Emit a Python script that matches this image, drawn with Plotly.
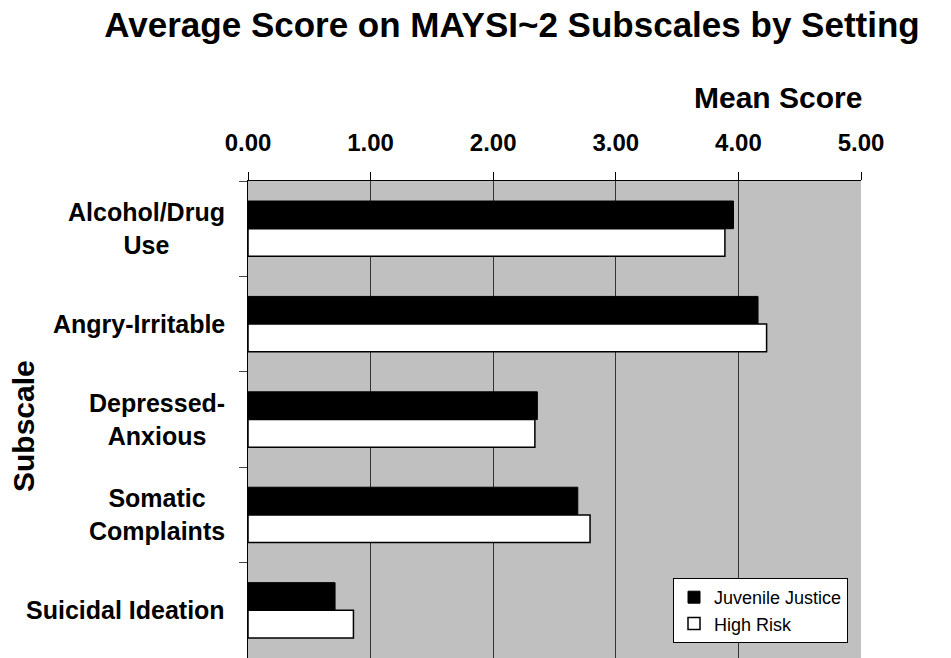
import plotly.graph_objects as go

categories = ["Alcohol/Drug Use", "Angry-Irritable", "Depressed-Anxious", "Somatic Complaints", "Suicidal Ideation"]
category_labels = ["Alcohol/Drug<br>Use", "Angry-Irritable", "Depressed-<br>Anxious", "Somatic<br>Complaints", "Suicidal Ideation"]
juvenile_justice = [3.96, 4.16, 2.36, 2.69, 0.71]
high_risk = [3.89, 4.23, 2.34, 2.79, 0.86]
x_ticks = [0, 1, 2, 3, 4, 5]

FONT = "Liberation Sans, Arial, sans-serif"
OFF = 8  # page body margin offset
W, H = 951, 658
L, R, T, B = 248 - OFF, 951 + OFF - 861, 181 - OFF, OFF
PW = W - L - R
PH = H - T - B

fig = go.Figure()
fig.add_trace(go.Bar(
    y=categories, x=juvenile_justice, orientation="h", name="Juvenile Justice",
    marker=dict(color="black", line=dict(color="black", width=1)),
))
fig.add_trace(go.Bar(
    y=categories, x=high_risk, orientation="h", name="High Risk",
    marker=dict(color="white", line=dict(color="black", width=1.5)),
))

fig.update_layout(
    width=W, height=H,
    margin=dict(l=L, r=R, t=T, b=B),
    paper_bgcolor="white",
    plot_bgcolor="#C0C0C0",
    barmode="group",
    bargap=0.42,
    bargroupgap=0,
    font=dict(family=FONT, color="black"),
    title=dict(
        text="Average Score on MAYSI~2 Subscales by Setting",
        font=dict(family=FONT, size=35, weight="bold", color="black"),
        x=(512 - OFF) / W, xanchor="center", y=1 - (25 - OFF) / H, yanchor="middle", yref="container",
    ),
    xaxis=dict(
        side="top", range=[0, 5], tickvals=x_ticks, tickformat=".2f",
        ticks="outside", ticklen=8, tickcolor="black", tickwidth=1,
        tickfont=dict(family=FONT, size=24, weight="bold", color="black"),
        ticklabelstandoff=11,
        showgrid=True, gridcolor="#333333", gridwidth=1,
        showline=True, linecolor="black", linewidth=1, mirror=False,
        zeroline=False, fixedrange=True,
    ),
    yaxis=dict(
        type="category", categoryorder="array", categoryarray=categories,
        autorange="reversed",
        tickson="boundaries", ticks="outside", ticklen=8, tickcolor="#444444",
        showticklabels=False, showgrid=False,
        showline=True, linecolor="black", linewidth=1,
        zeroline=False, fixedrange=True,
    ),
    legend=dict(
        x=(673 - 248) / PW, y=(658 - 578) / PH, xanchor="left", yanchor="top",
        bgcolor="white", bordercolor="black", borderwidth=1,
        font=dict(family=FONT, size=18, color="black"),
        itemwidth=30, tracegroupgap=2,
    ),
    showlegend=True,
)

for cat, lab in zip(categories, category_labels):
    fig.add_annotation(
        x=(227 - 248) / PW, xref="paper", y=cat, yref="y", text=lab, showarrow=False,
        xanchor="right", yanchor="middle", align="center",
        font=dict(family=FONT, size=25, weight="bold", color="black"),
    )

fig.add_annotation(
    x=(23 - 248) / PW, xref="paper", y=(658 - 426) / PH, yref="paper",
    text="Subscale", textangle=-90, showarrow=False,
    xanchor="center", yanchor="middle",
    font=dict(family=FONT, size=30, weight="bold", color="black"),
)
fig.add_annotation(
    x=(778 - 248) / PW, xref="paper", y=1 + (181 - 97) / PH, yref="paper",
    text="Mean Score", showarrow=False, xanchor="center", yanchor="middle",
    font=dict(family=FONT, size=30, weight="bold", color="black"),
)

fig.write_html("out.html")
